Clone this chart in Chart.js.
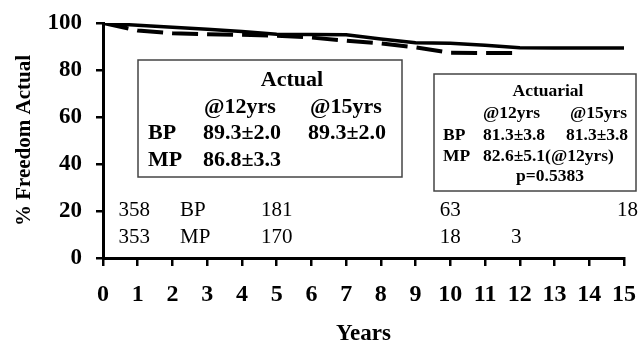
<!DOCTYPE html>
<html>
<head>
<meta charset="utf-8">
<script src="https://cdn.jsdelivr.net/npm/chart.js@4.4.1/dist/chart.umd.min.js"></script>
<style>
  html, body { margin: 0; padding: 0; background: #fff; }
  #wrap { width: 638px; height: 346px; }
</style>
</head>
<body>
<div id="wrap"><canvas id="c" width="638" height="346"></canvas></div>
<script>
// ---- data ----
const years = [0, 1, 2, 3, 4, 5, 6, 7, 8, 9, 10, 11, 12, 13, 14, 15];
const bpActual = [100, 99.0, 98.2, 97.3, 96.4, 95.2, 95.1, 95.0, 93.2, 91.6, 91.4, 90.5, 89.5, 89.4, 89.4, 89.4];
const mpActual = [100, 96.8, 95.6, 95.2, 95.0, 94.6, 93.8, 92.5, 91.3, 89.6, 87.3, 87.2, 87.2];
const yTicks = [0, 20, 40, 60, 80, 100];

// numbers at risk
const riskYears = [0.9, 5, 10, 11.9, 15.1];
const bpAtRisk = ['358', '181', '63', '', '18'];
const mpAtRisk = ['353', '170', '18', '3', ''];

// summary tables
const actualTitle = 'Actual';
const actualHeader = ['@12yrs', '@15yrs'];
const actualBP = ['BP', '89.3±2.0', '89.3±2.0'];
const actualMP = ['MP', '86.8±3.3'];
const actuarialTitle = 'Actuarial';
const actuarialHeader = ['@12yrs', '@15yrs'];
const actuarialBP = ['BP', '81.3±3.8', '81.3±3.8'];
const actuarialMP = ['MP', '82.6±5.1(@12yrs)'];
const actuarialP = 'p=0.5383';

const SERIF = '"Liberation Serif", "Times New Roman", serif';

const overlay = {
  id: 'overlay',
  afterDraw(chart) {
    const ctx = chart.ctx;
    const xs = chart.scales.x;
    ctx.save();
    ctx.fillStyle = '#000';
    ctx.textBaseline = 'middle';

    // Actual box
    ctx.strokeStyle = '#444';
    ctx.lineWidth = 1.5;
    ctx.strokeRect(138, 60, 264, 117);
    ctx.font = 'bold 22px ' + SERIF;
    ctx.textAlign = 'center';
    ctx.fillText(actualTitle, 292, 80);
    ctx.textAlign = 'left';
    ctx.fillText(actualHeader[0], 204, 107);
    ctx.fillText(actualHeader[1], 310, 107);
    ctx.fillText(actualBP[0], 148, 133);
    ctx.fillText(actualBP[1], 203, 133);
    ctx.fillText(actualBP[2], 308, 133);
    ctx.fillText(actualMP[0], 148, 160);
    ctx.fillText(actualMP[1], 203, 160);

    // Actuarial box
    ctx.strokeRect(434, 74, 202, 117);
    ctx.font = 'bold 17.5px ' + SERIF;
    ctx.textAlign = 'center';
    ctx.fillText(actuarialTitle, 548, 91);
    ctx.fillText(actuarialP, 550, 176);
    ctx.textAlign = 'left';
    ctx.fillText(actuarialHeader[0], 483, 113);
    ctx.fillText(actuarialHeader[1], 570, 113);
    ctx.fillText(actuarialBP[0], 443, 135);
    ctx.fillText(actuarialBP[1], 483, 135);
    ctx.fillText(actuarialBP[2], 566, 135);
    ctx.fillText(actuarialMP[0], 443, 156);
    ctx.fillText(actuarialMP[1], 483, 156);

    // numbers at risk
    ctx.font = '21px ' + SERIF;
    ctx.textAlign = 'left';
    ctx.fillText('BP', 180, 210);
    ctx.fillText('MP', 180, 237);
    ctx.textAlign = 'center';
    riskYears.forEach((yr, i) => {
      const px = xs.getPixelForValue(yr);
      if (bpAtRisk[i]) ctx.fillText(bpAtRisk[i], px, 210);
      if (mpAtRisk[i]) ctx.fillText(mpAtRisk[i], px, 237);
    });
    ctx.restore();
  }
};

new Chart(document.getElementById('c'), {
  type: 'line',
  data: {
    datasets: [
      {
        label: 'BP',
        data: years.map((x, i) => ({ x, y: bpActual[i] })),
        borderColor: '#000',
        borderWidth: 3.5,
        pointRadius: 0,
        tension: 0,
        fill: false
      },
      {
        label: 'MP',
        data: mpActual.map((y, i) => ({ x: years[i], y })),
        borderColor: '#000',
        borderWidth: 4,
        borderDash: [26, 9],
        pointRadius: 0,
        tension: 0,
        fill: false
      }
    ]
  },
  options: {
    responsive: false,
    animation: false,
    layout: { padding: { left: 0, right: 14, top: 23, bottom: 0 } },
    plugins: { legend: { display: false }, tooltip: { enabled: false } },
    scales: {
      x: {
        type: 'linear',
        min: 0, max: 15,
        afterFit(s) { s.height = 88; s.paddingLeft = 0; s.paddingRight = 0; },
        ticks: {
          stepSize: 1,
          color: '#000',
          padding: 14,
          font: { family: SERIF, size: 24, weight: 'bold' }
        },
        grid: { drawOnChartArea: false, drawTicks: true, tickLength: 8, color: '#000', lineWidth: 2.5 },
        border: { display: true, color: '#000', width: 3 },
        title: {
          display: true,
          text: 'Years',
          color: '#000',
          padding: { top: 0, bottom: 0 },
          font: { family: SERIF, size: 23, weight: 'bold', lineHeight: 1 }
        }
      },
      y: {
        min: 0, max: 100,
        afterFit(s) { s.width = 103; s.paddingTop = 0; s.paddingBottom = 0; },
        afterBuildTicks(s) { s.ticks = yTicks.map(v => ({ value: v })); },
        ticks: {
          color: '#000',
          padding: 14,
          font: { family: SERIF, size: 23, weight: 'bold' }
        },
        grid: { drawOnChartArea: false, drawTicks: true, tickLength: 7, color: '#000', lineWidth: 2.5 },
        border: { display: true, color: '#000', width: 3 },
        title: {
          display: true,
          text: '% Freedom Actual',
          color: '#000',
          padding: { top: 14, bottom: 0 },
          font: { family: SERIF, size: 21, weight: 'bold', lineHeight: 1 }
        }
      }
    }
  },
  plugins: [overlay]
});
</script>
</body>
</html>
